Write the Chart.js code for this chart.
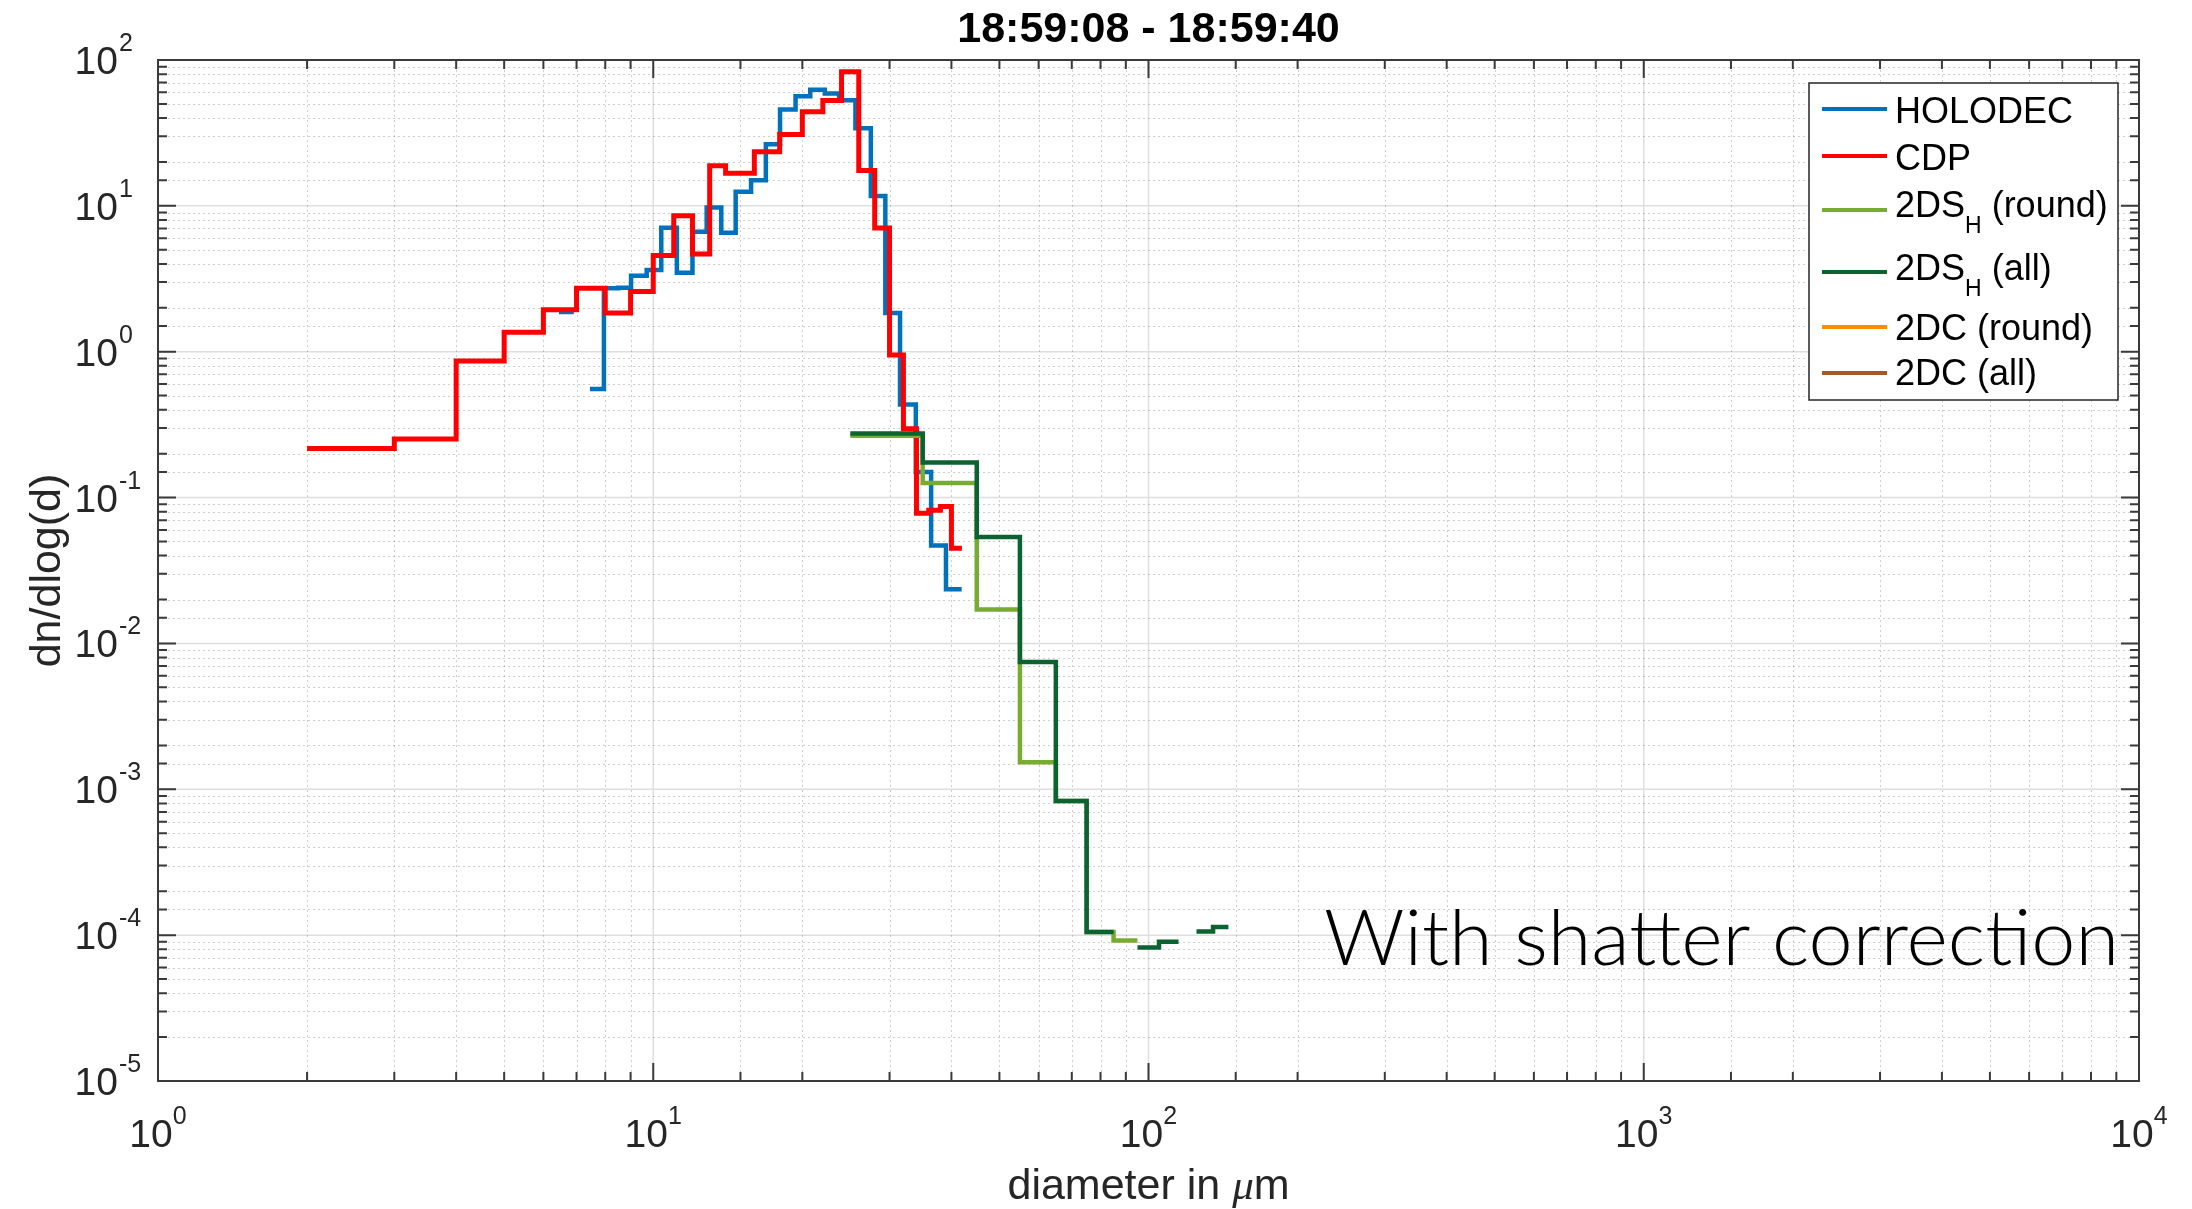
<!DOCTYPE html>
<html>
<head>
<meta charset="utf-8">
<script src="https://cdn.jsdelivr.net/npm/chart.js@4.4.1/dist/chart.umd.min.js"></script>
<style>
  html, body { margin: 0; padding: 0; background: #fff; }
  #wrap { width: 2192px; height: 1209px; }
</style>
</head>
<body>
<div id="wrap"><canvas id="sizeDist" width="2192" height="1209"></canvas></div>
<script>
// bin edges (µm) and dn/dlog(d) per bin, null = no data in that bin
const holodecEdges = [6.45, 6.91, 7.45, 7.95, 8.5, 9.02, 9.70, 10.38, 11.16, 12.0, 12.82, 13.72, 14.67, 15.76,
                      16.88, 18.03, 19.38, 20.75, 22.2, 23.73, 25.6, 27.5, 29.42, 31.5, 33.9, 36.4, 39.0, 41.95];
const holodecVals = [1.87, null, 0.556, 2.72, 2.75, 3.32, 3.63, 7.07, 3.48, 6.64, 9.74, 6.54, 12.5, 15.0,
                     26.4, 45.8, 56.5, 62.5, 59, 53, 34, 11.7, 1.84, 0.434, 0.15, 0.047, 0.0235];

const cdpEdges = [2, 3, 4, 5, 6, 7, 8, 9, 10, 11, 12, 13, 14, 16, 18, 20, 22, 24, 26, 28, 30, 32, 34, 36, 38, 40, 42];
const cdpVals = [0.217, 0.252, 0.864, 1.36, 1.94, 2.72, 1.84, 2.59, 4.56, 8.56, 4.68, 18.8, 16.7,
                 23.5, 30.9, 44.2, 52.8, 83, 17.5, 7.05, 0.95, 0.296, 0.078, 0.082, 0.087, 0.045];

const twoDsEdges = [25, 35, 45, 55, 65, 75, 85, 95, 105, 115, 125, 135, 145];
const twoDsRound = [0.265, 0.126, 0.0171, 0.00153, 0.00083, 1.05e-4, 9.2e-5, null, null, null, null, null];
const twoDsAll = [0.275, 0.174, 0.0537, 0.00745, 0.00083, 1.05e-4, null, 8.24e-5, 9.0e-5, null, 1.06e-4, 1.135e-4];

// 2DC had nothing in this time window, only in the legend
const twoDcEdges = [];
const twoDcRound = [];
const twoDcAll = [];

const xTickExps = [0, 1, 2, 3, 4];
const yTickExps = [2, 1, 0, -1, -2, -3, -4, -5];

const titleText = "18:59:08 - 18:59:40";
const noteText = "With shatter correction";

const colors = {
    holodec: "#0072BD",
    cdp: "#FF0000",
    dsRound: "#77AC30",
    dsAll: "#0A6331",
    dcRound: "#FF8C00",
    dcAll: "#A5592B"
};

// matlab-like stairs: horizontal over each bin, vertical between bins, gap on null
function stairs(edges, vals) {
    const pts = [];
    for (let i = 0; i < vals.length; i++) {
        const v = vals[i];
        if (v == null) {
            pts.push({ x: edges[i], y: null });
            continue;
        }
        pts.push({ x: edges[i], y: v });
        if (i == vals.length - 1 || vals[i + 1] == null) {
            pts.push({ x: edges[i + 1], y: v });
        }
    }
    return pts;
}

function series(label, edges, vals, color, width, order) {
    return {
        label: label,
        data: stairs(edges, vals),
        borderColor: color,
        backgroundColor: color,
        borderWidth: width,
        pointRadius: 0,
        stepped: "before",   // chart.js 'before' = horizontal first, then vertical
        spanGaps: false,
        order: order
    };
}

const legendItems = [
    { name: "HOLODEC", sub: "", rest: "", color: colors.holodec, lineY: 109, base: 123 },
    { name: "CDP", sub: "", rest: "", color: colors.cdp, lineY: 156, base: 170 },
    { name: "2DS", sub: "H", rest: " (round)", color: colors.dsRound, lineY: 210, base: 217 },
    { name: "2DS", sub: "H", rest: " (all)", color: colors.dsAll, lineY: 272, base: 280 },
    { name: "2DC (round)", sub: "", rest: "", color: colors.dcRound, lineY: 327, base: 340 },
    { name: "2DC (all)", sub: "", rest: "", color: colors.dcAll, lineY: 373, base: 385 }
];

function isDecade(v) {
    const l = Math.log10(v);
    return Math.abs(l - Math.round(l)) < 1e-6;
}

const axisColor = "#3a3a3a";
const font = '"Liberation Sans", Arial, sans-serif';

const matlabLook = {
    id: "matlabLook",
    beforeDatasetsDraw(chart) {
        const { ctx, chartArea: a, scales } = chart;
        const x = scales.x, y = scales.y;
        ctx.save();
        ctx.beginPath();
        ctx.rect(a.left, a.top, a.right - a.left, a.bottom - a.top);
        ctx.clip();
        ctx.lineWidth = 1;
        // minor grid, dotted
        ctx.strokeStyle = "rgba(38,38,38,0.22)";
        ctx.setLineDash([2, 3]);
        ctx.beginPath();
        x.ticks.forEach(t => {
            if (isDecade(t.value)) return;
            const px = Math.round(x.getPixelForValue(t.value)) + 0.5;
            ctx.moveTo(px, a.top); ctx.lineTo(px, a.bottom);
        });
        y.ticks.forEach(t => {
            if (isDecade(t.value)) return;
            const py = Math.round(y.getPixelForValue(t.value)) + 0.5;
            ctx.moveTo(a.left, py); ctx.lineTo(a.right, py);
        });
        ctx.stroke();
        // major grid, solid
        ctx.setLineDash([]);
        ctx.strokeStyle = "rgba(38,38,38,0.15)";
        ctx.lineWidth = 1.5;
        ctx.beginPath();
        x.ticks.forEach(t => {
            if (!isDecade(t.value)) return;
            const px = x.getPixelForValue(t.value);
            ctx.moveTo(px, a.top); ctx.lineTo(px, a.bottom);
        });
        y.ticks.forEach(t => {
            if (!isDecade(t.value)) return;
            const py = y.getPixelForValue(t.value);
            ctx.moveTo(a.left, py); ctx.lineTo(a.right, py);
        });
        ctx.stroke();
        ctx.restore();
    },
    afterDatasetsDraw(chart) {
        const { ctx, chartArea: a, scales } = chart;
        const x = scales.x, y = scales.y;
        ctx.save();

        // box and inward ticks
        ctx.strokeStyle = axisColor;
        ctx.lineWidth = 2;
        ctx.beginPath();
        x.ticks.forEach(t => {
            const px = x.getPixelForValue(t.value);
            if (px <= a.left + 1 || px >= a.right - 1) return;
            const len = isDecade(t.value) ? 18 : 9;
            ctx.moveTo(px, a.bottom); ctx.lineTo(px, a.bottom - len);
            ctx.moveTo(px, a.top); ctx.lineTo(px, a.top + len);
        });
        y.ticks.forEach(t => {
            const py = y.getPixelForValue(t.value);
            if (py <= a.top + 1 || py >= a.bottom - 1) return;
            const len = isDecade(t.value) ? 18 : 9;
            ctx.moveTo(a.left, py); ctx.lineTo(a.left + len, py);
            ctx.moveTo(a.right, py); ctx.lineTo(a.right - len, py);
        });
        ctx.stroke();
        ctx.strokeRect(a.left, a.top, a.right - a.left, a.bottom - a.top);

        // tick labels 10^n
        ctx.fillStyle = "#262626";
        ctx.textBaseline = "alphabetic";
        ctx.textAlign = "left";
        const baseFont = "39px " + font, expFont = "25px " + font;
        xTickExps.forEach(e => {
            const px = x.getPixelForValue(Math.pow(10, e));
            ctx.font = baseFont;
            const wb = ctx.measureText("10").width;
            ctx.font = expFont;
            const we = ctx.measureText(String(e)).width;
            const start = px - (wb + we) / 2;
            ctx.font = baseFont;
            ctx.fillText("10", start, a.bottom + 66);
            ctx.font = expFont;
            ctx.fillText(String(e), start + wb, a.bottom + 43);
        });
        yTickExps.forEach(e => {
            const py = y.getPixelForValue(Math.pow(10, e));
            ctx.font = baseFont;
            const wb = ctx.measureText("10").width;
            const right = 118;
            ctx.fillText("10", right - wb, py + 14);
            ctx.font = expFont;
            ctx.fillText(String(e), right + 1, py - 9);
        });

        // title
        ctx.fillStyle = "#000";
        ctx.textAlign = "center";
        ctx.font = "bold 43px " + font;
        ctx.fillText(titleText, (a.left + a.right) / 2, 42);

        // x label with italic mu
        ctx.fillStyle = "#262626";
        ctx.textAlign = "left";
        const p1 = "diameter in ", p3 = "m";
        const labFont = "43px " + font, muFont = 'italic 43px "Liberation Serif", serif';
        ctx.font = labFont;
        const w1 = ctx.measureText(p1).width, w3 = ctx.measureText(p3).width;
        ctx.font = muFont;
        const w2 = ctx.measureText("\u03bc").width;
        let sx = (a.left + a.right) / 2 - (w1 + w2 + w3) / 2;
        ctx.font = labFont;
        ctx.fillText(p1, sx, 1199);
        ctx.font = muFont;
        ctx.fillText("\u03bc", sx + w1, 1199);
        ctx.font = labFont;
        ctx.fillText(p3, sx + w1 + w2, 1199);

        // y label
        ctx.save();
        ctx.translate(60, (a.top + a.bottom) / 2);
        ctx.rotate(-Math.PI / 2);
        ctx.textAlign = "center";
        ctx.font = labFont;
        ctx.fillText("dn/dlog(d)", 0, 0);
        ctx.restore();

        // legend
        const lg = { left: 1809, top: 83, right: 2118, bottom: 400 };
        ctx.fillStyle = "#fff";
        ctx.fillRect(lg.left, lg.top, lg.right - lg.left, lg.bottom - lg.top);
        ctx.strokeStyle = "#262626";
        ctx.lineWidth = 1.5;
        ctx.strokeRect(lg.left, lg.top, lg.right - lg.left, lg.bottom - lg.top);
        legendItems.forEach(it => {
            ctx.strokeStyle = it.color;
            ctx.lineWidth = 4;
            ctx.beginPath();
            ctx.moveTo(1822, it.lineY); ctx.lineTo(1887, it.lineY);
            ctx.stroke();
            ctx.fillStyle = "#000";
            ctx.textAlign = "left";
            ctx.font = "36px " + font;
            let tx = 1895;
            ctx.fillText(it.name, tx, it.base);
            tx += ctx.measureText(it.name).width;
            if (it.sub) {
                ctx.font = "23px " + font;
                ctx.fillText(it.sub, tx, it.base + 16);
                tx += ctx.measureText(it.sub).width;
                ctx.font = "36px " + font;
                ctx.fillText(it.rest, tx, it.base);
            }
        });

        // overlay note, squeezed to the width it had on the slide
        ctx.fillStyle = "#000";
        ctx.font = '300 76px Lato, "Open Sans", sans-serif';
        const nw = ctx.measureText(noteText).width;
        ctx.save();
        ctx.translate(1324, 965);
        ctx.scale(795 / nw, 1);
        ctx.fillText(noteText, 0, 0);
        ctx.restore();

        ctx.restore();
    }
};

new Chart(document.getElementById("sizeDist"), {
    type: "line",
    data: {
        datasets: [
            series("HOLODEC", holodecEdges, holodecVals, colors.holodec, 4.5, 6),
            series("CDP", cdpEdges, cdpVals, colors.cdp, 5, 5),
            series("2DS_H (round)", twoDsEdges, twoDsRound, colors.dsRound, 4.5, 4),
            series("2DS_H (all)", twoDsEdges, twoDsAll, colors.dsAll, 4.5, 3),
            series("2DC (round)", twoDcEdges, twoDcRound, colors.dcRound, 4.5, 2),
            series("2DC (all)", twoDcEdges, twoDcAll, colors.dcAll, 4.5, 1)
        ]
    },
    options: {
        responsive: false,
        animation: false,
        devicePixelRatio: 1,
        layout: { padding: { left: 158, top: 60, right: 53, bottom: 128 } },
        plugins: {
            legend: { display: false },
            tooltip: { enabled: false },
            title: { display: false }
        },
        scales: {
            x: {
                type: "logarithmic",
                min: 1,
                max: 10000,
                ticks: { display: false },
                grid: { display: false, drawTicks: false },
                border: { display: false }
            },
            y: {
                type: "logarithmic",
                min: 1e-5,
                max: 100,
                ticks: { display: false },
                grid: { display: false, drawTicks: false },
                border: { display: false }
            }
        }
    },
    plugins: [matlabLook]
});
</script>
</body>
</html>
